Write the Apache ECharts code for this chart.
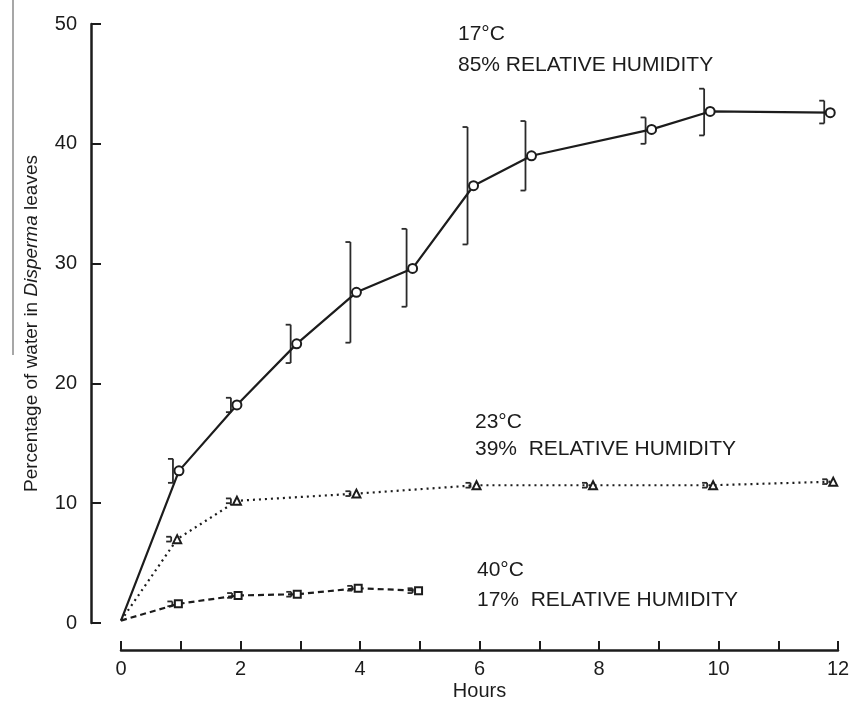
<!DOCTYPE html>
<html>
<head>
<meta charset="utf-8">
<script src="https://cdn.jsdelivr.net/npm/echarts@6/dist/echarts.min.js"></script>
<style>
  html, body { margin: 0; padding: 0; background: #fff; }
  #chart { width: 852px; height: 701px; }
</style>
</head>
<body>
<div id="chart"></div>
<script>
// 17°C, 85% RH (solid line, circles)
const hours17 = [0, 0.97, 1.94, 2.94, 3.94, 4.88, 5.9, 6.87, 8.88, 9.86, 11.87];
const water17 = [0.2, 12.7, 18.2, 23.3, 27.6, 29.6, 36.5, 39.0, 41.2, 42.7, 42.6];
const low17 = [null, 11.7, 17.6, 21.7, 23.4, 26.4, 31.6, 36.1, 40.0, 40.7, 41.7];
const high17 = [null, 13.7, 18.8, 24.9, 31.8, 32.9, 41.4, 41.9, 42.2, 44.6, 43.6];

// 23°C, 39% RH (dotted line, triangles)
const hours23 = [0, 0.94, 1.94, 3.94, 5.95, 7.9, 9.91, 11.92];
const water23 = [0.2, 7.0, 10.2, 10.8, 11.5, 11.5, 11.5, 11.8];
const low23 = [null, 6.8, 10.0, 10.6, 11.3, 11.3, 11.3, 11.6];
const high23 = [null, 7.2, 10.4, 11.0, 11.7, 11.7, 11.7, 12.0];

// 40°C, 17% RH (dashed line, squares)
const hours40 = [0, 0.96, 1.96, 2.95, 3.97, 4.98];
const water40 = [0.2, 1.6, 2.3, 2.4, 2.9, 2.7];
const low40 = [null, 1.4, 2.1, 2.2, 2.7, 2.5];
const high40 = [null, 1.8, 2.5, 2.6, 3.1, 2.9];

const xTicks = [0, 2, 4, 6, 8, 10, 12];

const ink = "#1c1c1c";
const font = "'Liberation Sans', Arial, sans-serif";

function pairs(xs, ys) {
  return xs.map((x, i) => [x, ys[i]]);
}

function bars(xs, lo, hi) {
  return xs.map((x, i) => [x, lo[i], hi[i]]).filter((d) => d[1] !== null);
}

function bracketItem(params, api) {
  const x = api.value(0);
  const top = api.coord([x, api.value(2)]);
  const bot = api.coord([x, api.value(1)]);
  const bx = top[0] - 6;
  const style = { stroke: "#2a2a2a", lineWidth: 1.8 };
  return {
    type: "group",
    children: [
      { type: "line", shape: { x1: bx, y1: top[1], x2: bx, y2: bot[1] }, style },
      { type: "line", shape: { x1: bx - 5, y1: top[1], x2: bx, y2: top[1] }, style },
      { type: "line", shape: { x1: bx - 5, y1: bot[1], x2: bx, y2: bot[1] }, style },
    ],
  };
}

function lineSeries(name, data, symbol, size, dash) {
  return {
    name,
    type: "line",
    data,
    symbol: (val, params) => (params.dataIndex === 0 ? "none" : symbol),
    symbolSize: size,
    showAllSymbol: true,
    lineStyle: { color: ink, width: 2.2, type: dash },
    itemStyle: { color: "#fff", borderColor: ink, borderWidth: 2 },
    z: 3,
    animation: false,
  };
}

function barSeries(xs, lo, hi) {
  return {
    type: "custom",
    renderItem: bracketItem,
    data: bars(xs, lo, hi),
    encode: { x: 0, y: [1, 2] },
    z: 2,
    animation: false,
  };
}

function note(left, top, text) {
  return {
    type: "text",
    left,
    top,
    style: { text, fill: ink, font: `21px ${font}` },
  };
}

const chart = echarts.init(document.getElementById("chart"));

chart.setOption({
  animation: false,
  backgroundColor: "#fff",
  grid: { left: 121, right: 14, top: 24, bottom: 78, outerBoundsMode: "none", containLabel: false },
  xAxis: {
    type: "value",
    min: 0,
    max: 12,
    interval: 1,
    offset: 27,
    name: "Hours",
    nameLocation: "middle",
    nameGap: 31,
    nameMoveOverlap: false,
    nameTextStyle: { color: ink, fontSize: 20, fontFamily: font },
    axisLine: { onZero: false, lineStyle: { color: ink, width: 2.5 } },
    axisTick: { inside: true, length: 9, lineStyle: { color: ink, width: 2 } },
    axisLabel: {
      margin: 9,
      color: ink,
      fontSize: 20,
      fontFamily: font,
      formatter: (v) => (xTicks.includes(v) ? String(v) : ""),
    },
    splitLine: { show: false },
  },
  yAxis: {
    type: "value",
    min: 0,
    max: 50,
    interval: 10,
    offset: 30,
    name: "{a|Percentage of water in }{b|Disperma}{a| leaves}",
    nameLocation: "middle",
    nameRotate: 90,
    nameGap: 50,
    nameMoveOverlap: false,
    nameTextStyle: {
      rich: {
        a: { color: ink, fontSize: 19, fontFamily: font },
        b: { color: ink, fontSize: 19, fontFamily: font, fontStyle: "italic" },
      },
    },
    axisLine: { onZero: false, lineStyle: { color: ink, width: 2.5 } },
    axisTick: { inside: true, length: 10, lineStyle: { color: ink, width: 2 } },
    axisLabel: { margin: 14, color: ink, fontSize: 20, fontFamily: font },
    splitLine: { show: false },
  },
  graphic: [
    { type: "line", shape: { x1: 13, y1: 0, x2: 13, y2: 355 }, style: { stroke: "#8a8a8a", lineWidth: 1.5 } },
    note(458, 24, "17°C"),
    note(458, 55, "85% RELATIVE HUMIDITY"),
    note(475, 412, "23°C"),
    note(475, 439, "39%  RELATIVE HUMIDITY"),
    note(477, 560, "40°C"),
    note(477, 590, "17%  RELATIVE HUMIDITY"),
  ],
  series: [
    barSeries(hours17, low17, high17),
    barSeries(hours23, low23, high23),
    barSeries(hours40, low40, high40),
    lineSeries("17°C", pairs(hours17, water17), "circle", 9, "solid"),
    lineSeries("23°C", pairs(hours23, water23), "triangle", 8, [2, 4]),
    lineSeries("40°C", pairs(hours40, water40), "rect", 7, [6, 4]),
  ],
});
</script>
</body>
</html>
